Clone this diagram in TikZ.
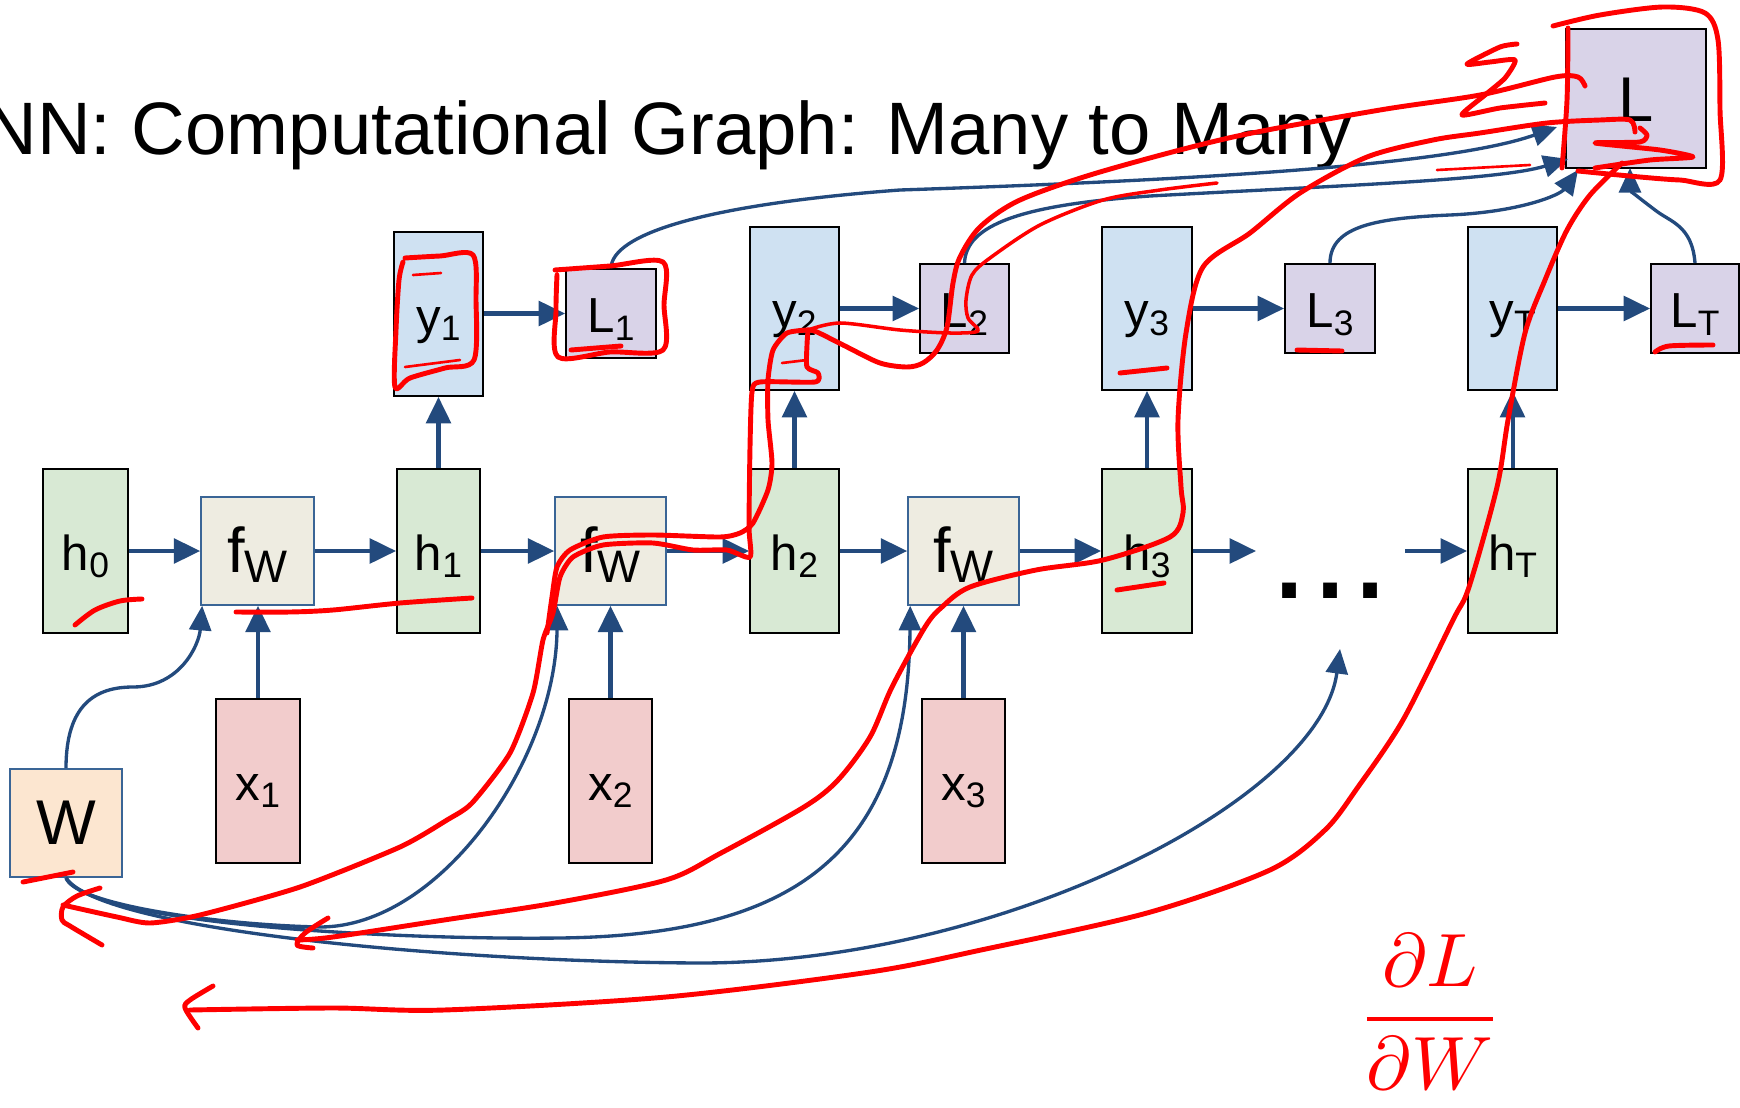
\documentclass[tikz,border=0pt]{standalone}
\usepackage{fontspec}
\usepackage{graphicx}
\setmainfont{Liberation Sans}
\usetikzlibrary{arrows.meta}

\definecolor{hgreen}{HTML}{D8E9D4}
\definecolor{yblue}{HTML}{CFE1F2}
\definecolor{lpurple}{HTML}{D9D3E8}
\definecolor{xpink}{HTML}{F2CCCC}
\definecolor{fbeige}{HTML}{EEECE1}
\definecolor{wpeach}{HTML}{FCE6D0}
\definecolor{fborder}{HTML}{3A6596}
\definecolor{ablue}{HTML}{234A7D}
\definecolor{penred}{HTML}{FF0000}

\newlength\pxu
\setlength\pxu{0.02cm}
\newcommand\sbs[1]{\raisebox{-0.15em}{\scalebox{0.72}{#1}}}

\begin{document}
\begin{tikzpicture}[x=0.02cm, y=-0.02cm,
  sz/.style 2 args={minimum width=#1\pxu, minimum height=#2\pxu},
  box/.style={rectangle, inner sep=0pt, line width=1.1pt, draw=black,
    font=\fontsize{28}{31}\selectfont, text height=22pt, text depth=0pt},
  hbox/.style={box, fill=hgreen},
  ybox/.style={box, fill=yblue},
  lbox/.style={box, fill=lpurple},
  xbox/.style={box, fill=xpink},
  fwbox/.style={box, fill=fbeige, draw=fborder, line width=0.9pt,
    font=\fontsize{36}{40}\selectfont, text height=25pt},
  wbox/.style={box, fill=wpeach, draw=fborder, line width=0.9pt,
    font=\fontsize{36}{40}\selectfont, text height=25pt},
  conn/.style={draw=ablue, line width=2.3pt, -{Triangle[length=15pt,width=14pt]}},
  curv/.style={draw=ablue, line width=1.9pt, -{Triangle[length=14pt,width=12.5pt]}},
  pen/.style={draw=penred, line width=2.8pt, line cap=round, line join=round},
  thinpen/.style={pen, line width=1.5pt}
]
\useasboundingbox (0,0) rectangle (1740,1108);
\fill[white] (0,0) rectangle (1740,1108);

% title
\node[anchor=base west, inner sep=0pt, font=\fontsize{42.3}{48}\selectfont] (title)
  at (-17,155) {NN: Computational Graph: Many to Many};

% hidden states and cells
\node[hbox, sz={85}{164}] (h0) at (85.5,551) {h\sbs{0}};
\node[fwbox, sz={113}{108}] (fW1) at (257.5,551) {f\sbs{W}};
\node[hbox, sz={83}{164}] (h1) at (438.5,551) {h\sbs{1}};
\node[fwbox, sz={111}{108}] (fW2) at (610.5,551) {f\sbs{W}};
\node[hbox, sz={89}{164}] (h2) at (794.5,551) {h\sbs{2}};
\node[fwbox, sz={111}{108}] (fW3) at (963.5,551) {f\sbs{W}};
\node[hbox, sz={90}{164}] (h3) at (1147,551) {h\sbs{3}};
\node[hbox, sz={89}{164}] (hT) at (1512.5,551) {h\sbs{T}};
\node[anchor=base, inner sep=0pt, font=\fontsize{82}{90}\selectfont] (dots) at (1330,598) {...};

% outputs and losses
\node[ybox, sz={89}{164}] (y1) at (438.5,314) {y\sbs{1}};
\node[ybox, sz={89}{163}] (y2) at (794.5,308.5) {y\sbs{2}};
\node[ybox, sz={90}{163}] (y3) at (1147,308.5) {y\sbs{3}};
\node[ybox, sz={89}{163}] (yT) at (1512.5,308.5) {y\sbs{T}};
\node[lbox, sz={90}{89}] (L1) at (611,313.5) {L\sbs{1}};
\node[lbox, sz={89}{89}] (L2) at (964.5,308.5) {L\sbs{2}};
\node[lbox, sz={90}{89}] (L3) at (1330,308.5) {L\sbs{3}};
\node[lbox, sz={88}{89}] (LT) at (1695,308.5) {L\sbs{T}};
\node[lbox, sz={140}{139}, font=\fontsize{36}{40}\selectfont, text height=26.6pt] (L) at (1636,98.5) {L};

% inputs and weights
\node[xbox, sz={84}{164}] (x1) at (258,781) {x\sbs{1}};
\node[xbox, sz={83}{164}] (x2) at (610.5,781) {x\sbs{2}};
\node[xbox, sz={83}{164}] (x3) at (963.5,781) {x\sbs{3}};
\node[wbox, sz={112}{108}] (W) at (66,823) {W\hspace{10\pxu}};

% free ends
\coordinate (hpre) at (1256,551);
\coordinate (hpost) at (1405,551);
\coordinate (dotsin) at (1340,649);
\coordinate (tipA) at (1557,127);
\coordinate (tipB) at (1568,159);
\coordinate (tipC) at (1578,170);
\coordinate (tipD) at (1630,168);

% recurrence chain
\draw[conn] (h0.east) -- (fW1.west);
\draw[conn] (fW1.east) -- (h1.west);
\draw[conn] (h1.east) -- (fW2.west);
\draw[conn] (fW2.east) -- (h2.west);
\draw[conn] (h2.east) -- (fW3.west);
\draw[conn] (fW3.east) -- (h3.west);
\draw[conn] (h3.east) -- (hpre);
\draw[conn] (hpost) -- (hT.west);

% inputs up into cells
\draw[conn] (x1.north) -- (x1.north |- fW1.south);
\draw[conn] (x2.north) -- (x2.north |- fW2.south);
\draw[conn] (x3.north) -- (x3.north |- fW3.south);

% hidden states up to outputs
\draw[conn] (h1.north) -- (y1.south);
\draw[conn] (h2.north) -- (y2.south);
\draw[conn] (h3.north) -- (y3.south);
\draw[conn] (hT.north) -- (yT.south);

% outputs to losses
\draw[conn] (y1.east |- L1.west) -- (L1.west);
\draw[conn] (y2.east) -- (L2.west);
\draw[conn] (y3.east) -- (L3.west);
\draw[conn] (yT.east) -- (LT.west);

% losses summed into L
\draw[curv] (L1.north) .. controls (612,235) and (700,205) .. (900,190)
  .. controls (1200,180) and (1450,165) .. (tipA);
\draw[curv] (L2.north) .. controls (966,225) and (1020,205) .. (1150,196)
  .. controls (1350,185) and (1500,180) .. (tipB);
\draw[curv] (L3.north) .. controls (1330,225) and (1380,218) .. (1450,215)
  .. controls (1520,212) and (1560,195) .. (tipC);
\draw[curv] (LT.north) .. controls (1692,225) and (1670,222) .. (1655,210)
  .. controls (1635,195) and (1630,190) .. (tipD);

% shared weights into every cell
\draw[curv] (W.north) .. controls (66,705) and (95,687) .. (133,687)
  .. controls (180,687) and (199,645) .. ([xshift=2\pxu]fW1.south west);
\draw[curv] (W.south) .. controls (75,905) and (220,925) .. (320,927)
  .. controls (440,927) and (556,760) .. ([xshift=3\pxu]fW2.south west);
\draw[curv] (W.south) .. controls (90,925) and (400,940) .. (560,938)
  .. controls (800,935) and (908,850) .. ([xshift=3\pxu]fW3.south west);
\draw[curv] (W.south) .. controls (100,930) and (450,962) .. (700,963)
  .. controls (1000,963) and (1320,800) .. (dotsin);

% ---- pen annotations ----
% boxes around y1 and L1
\draw[pen] plot[smooth, tension=0.5] coordinates {(405,258) (440,256) (473,255) (476,300) (474,360) (445,368) (410,378) (395,387) (396,330) (399,280) (403,262)};
\draw[thinpen] (413,275) -- (441,273);
\draw[thinpen] (405,367) -- (460,360);
\draw[pen] plot[smooth, tension=0.5] coordinates {(555,270) (610,266) (663,262) (664,305) (663,350) (610,352) (558,357) (556,310) (557,275)};
\draw[pen] (571,350) -- (621,346);

% loop around L and the sum sign
\draw[pen] plot[smooth, tension=0.5] coordinates {(1553,26) (1600,15) (1663,7) (1705,13) (1718,40) (1720,110) (1720,180) (1680,180) (1640,177) (1578,171)};
\draw[pen] plot[smooth, tension=0.5] coordinates {(1568,28) (1567,100) (1562,168)};
\draw[pen] plot[smooth, tension=0.4] coordinates {(1517,44) (1500,47) (1467,64) (1490,62) (1515,60) (1505,78) (1485,95) (1462,115) (1500,108) (1545,103)};
\draw[pen] plot[smooth, tension=0.4] coordinates {(1640,128) (1647,135) (1640,142) (1595,143) (1660,150) (1693,157) (1650,160) (1595,168)};
\draw[thinpen] (1437,170) -- (1530,165);

% path back through L2, y2, h2 and the second cell to W
\draw[pen] plot[smooth, tension=0.5] coordinates {(1585,86) (1578,77) (1555,77) (1480,95) (1380,110) (1233,137) (1100,172) (1020,200) (980,227) (960,257) (953,283) (947,327) (937,350) (923,363) (907,367) (880,363) (847,347) (817,332) (808,330)};
\draw[thinpen, line width=2pt] plot[smooth, tension=0.5] coordinates {(808,330) (840,323) (900,330) (950,333) (978,331) (968,318) (966,300) (972,275) (990,258) (1040,225) (1103,200) (1160,190) (1217,183)};
\draw[pen] plot[smooth, tension=0.4] coordinates {(808,330) (807,345) (807,367) (818,373) (815,382) (760,382) (752,392) (750,447) (749,527) (750,557) (727,550) (693,550) (653,543) (603,545) (573,557) (560,577) (553,613) (543,640) (533,693) (510,753) (472,803) (447,820) (400,847) (300,887) (200,915) (150,923) (117,917) (63,905)};
\draw[pen] plot[smooth, tension=0.4] coordinates {(808,330) (787,333) (773,350) (768,380) (768,420) (772,463) (768,490) (753,523) (740,533) (720,537) (653,535) (603,537) (570,550) (557,567) (552,597) (547,633)};
\draw[thinpen] (782,363) -- (807,360);
\draw[pen] plot[smooth, tension=0.5] coordinates {(100,888) (77,896) (63,907) (62,920) (70,926) (102,945)};

% path back through h3 and the third cell
\draw[pen] plot[smooth, tension=0.5] coordinates {(1635,132) (1630,120) (1600,120) (1547,123) (1480,133) (1433,140) (1367,157) (1300,193) (1250,233) (1203,267) (1186,333) (1178,420) (1181,487) (1183,513) (1170,537) (1103,560) (1036,570) (970,587) (942,607) (925,627) (892,687) (870,737) (838,780) (804,807) (721,853) (666,880) (555,903) (444,920) (333,937) (297,940)};
\draw[pen] plot[smooth, tension=0.5] coordinates {(328,918) (305,933) (297,945) (313,948)};

% path back through hT
\draw[pen] plot[smooth, tension=0.5] coordinates {(1622,163) (1590,195) (1567,230) (1545,280) (1525,333) (1508,420) (1497,487) (1469,587) (1453,620) (1403,720) (1358,787) (1325,830) (1270,870) (1147,913) (981,950) (870,972) (666,997) (444,1010) (333,1008) (190,1010)};
\draw[pen] plot[smooth, tension=0.5] coordinates {(213,986) (190,1000) (185,1008) (198,1028)};

% underlines
\draw[pen] plot[smooth] coordinates {(75,625) (95,610) (120,601) (142,599)};
\draw[pen] plot[smooth] coordinates {(236,612) (290,612) (333,610) (400,603) (472,598)};
\draw[pen] (1117,590) -- (1164,583);
\draw[pen] (1120,373) -- (1167,368);
\draw[pen] (1297,350) -- (1342,351);
\draw[pen] plot[smooth] coordinates {(1655,352) (1669,346) (1713,345)};
\draw[pen] (23,882) -- (73,872);

% derivative note
\node[text=penred, inner sep=0pt] (dLdW) at (1430,1012)
  {\scalebox{4.3}{$\displaystyle\frac{\partial L}{\partial W}$}};
\end{tikzpicture}
\end{document}
